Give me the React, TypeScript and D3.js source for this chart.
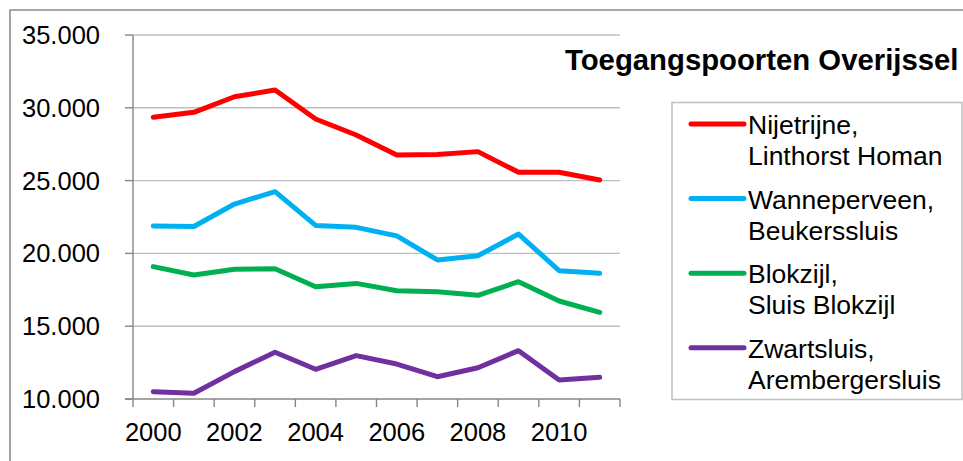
import React from "react";
import * as d3 from "d3";

const years = [2000, 2001, 2002, 2003, 2004, 2005, 2006, 2007, 2008, 2009, 2010, 2011];
const nijetrijne = [29350, 29690, 30760, 31220, 29230, 28130, 26760, 26800, 26990, 25570, 25570, 25040];
const wanneperveen = [21880, 21850, 23390, 24240, 21920, 21790, 21200, 19550, 19840, 21330, 18810, 18630];
const blokzijl = [19090, 18520, 18910, 18950, 17710, 17940, 17440, 17370, 17120, 18060, 16730, 15950];
const zwartsluis = [10500, 10390, 11880, 13210, 12040, 12980, 12400, 11530, 12150, 13320, 11300, 11490];
const yTicks = [10000, 15000, 20000, 25000, 30000, 35000];
const xLabelYears = [2000, 2002, 2004, 2006, 2008, 2010];
const seriesNames = [
  ["Nijetrijne,", "Linthorst Homan"],
  ["Wanneperveen,", "Beukerssluis"],
  ["Blokzijl,", "Sluis Blokzijl"],
  ["Zwartsluis,", "Arembergersluis"],
];
const seriesValues = [nijetrijne, wanneperveen, blokzijl, zwartsluis];
const seriesColors = ["#ff0000", "#00b0f0", "#00b050", "#7030a0"];
const title = "Toegangspoorten Overijssel";

const FONT = "'Liberation Sans', Arial, sans-serif";

export default function App() {
  const left = 133, right = 620, top = 35, bottom = 399;
  const x = d3.scaleBand<number>().domain(years).range([left, right]).padding(0);
  const y = d3.scaleLinear().domain([10000, 35000]).range([bottom, top]);
  const cx = (yr: number) => (x(yr) as number) + x.bandwidth() / 2;
  const line = d3
    .line<number>()
    .x((_, i) => cx(years[i]))
    .y((v) => y(v));
  const bounds = years.map((yr) => x(yr) as number).concat([right]);

  return (
    <svg
      width={963}
      height={461}
      style={{ position: "absolute", left: 0, top: 0, background: "#fff" }}
      fontFamily={FONT}
    >
      <rect x={0} y={0} width={963} height={461} fill="#fff" />
      {/* outer frame */}
      <path d="M10,475 L10,10 L963,10" fill="none" stroke="#8c8c8c" strokeWidth={1.6} />
      {/* gridlines */}
      {yTicks.map((t) =>
        t === 10000 ? null : (
          <line key={t} x1={left} x2={right} y1={y(t)} y2={y(t)} stroke="#bfbfbf" strokeWidth={1.4} />
        )
      )}
      {/* y axis */}
      <line x1={left} x2={left} y1={top} y2={bottom} stroke="#868686" strokeWidth={1.4} />
      {yTicks.map((t) => (
        <g key={t}>
          <line x1={left - 8} x2={left} y1={y(t)} y2={y(t)} stroke="#868686" strokeWidth={1.4} />
          <text x={100} y={y(t) + 9} textAnchor="end" fontSize={25.5} fill="#000">
            {d3.format(",")(t).replace(/,/g, ".")}
          </text>
        </g>
      ))}
      {/* x axis */}
      <line x1={left - 8} x2={right} y1={bottom} y2={bottom} stroke="#868686" strokeWidth={1.4} />
      {bounds.map((b, i) => (
        <line key={i} x1={b} x2={b} y1={bottom} y2={bottom + 8} stroke="#868686" strokeWidth={1.4} />
      ))}
      {xLabelYears.map((yr) => (
        <text key={yr} x={cx(yr)} y={441} textAnchor="middle" fontSize={25.5} fill="#000">
          {yr}
        </text>
      ))}
      {/* series */}
      {seriesValues.map((vals, i) => (
        <path
          key={i}
          d={line(vals) as string}
          fill="none"
          stroke={seriesColors[i]}
          strokeWidth={5}
          strokeLinejoin="round"
          strokeLinecap="round"
        />
      ))}
      {/* title */}
      <text x={565} y={70} fontSize={29.3} fontWeight="bold" fill="#000">
        {title}
      </text>
      {/* legend */}
      <rect x={672} y={102.5} width={290} height={297} fill="#fff" stroke="#c0c0c0" strokeWidth={1.5} />
      {seriesNames.map((nm, i) => {
        const ly = 124 + i * 74.6;
        return (
          <g key={i}>
            <line x1={691} x2={744} y1={ly} y2={ly} stroke={seriesColors[i]} strokeWidth={5} strokeLinecap="round" />
            <text x={748} y={ly + 10} fontSize={26.5} fill="#000">
              {nm[0]}
            </text>
            <text x={748} y={ly + 41} fontSize={26.5} fill="#000">
              {nm[1]}
            </text>
          </g>
        );
      })}
    </svg>
  );
}
